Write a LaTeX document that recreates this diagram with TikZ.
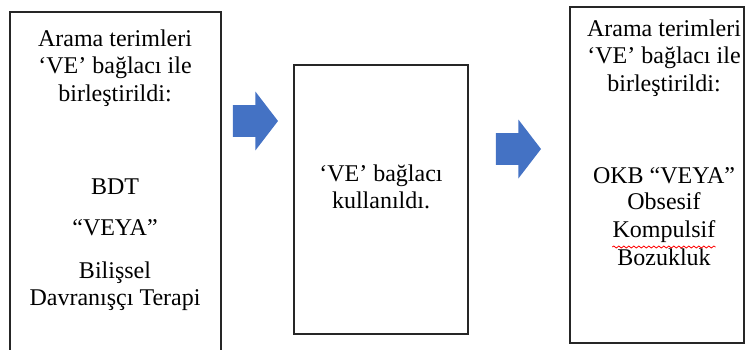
\documentclass[tikz,border=0pt]{standalone}
\usepackage{fontspec}
\newfontfamily\stagefont{Liberation Serif}
\usetikzlibrary{positioning}
\usetikzlibrary{shapes.arrows}
\usetikzlibrary{decorations.pathmorphing}
\definecolor{arrowblue}{HTML}{4472C4}
\tikzset{stagebox/.style={rectangle,draw=black!85,line width=0.6pt,fill=white,
inner sep=0pt}}
\tikzset{stagetext/.style={align=center,inner sep=0pt,
font=\stagefont\fontsize{12}{13.75}\selectfont}}
\tikzset{flowarrow/.style={single arrow,fill=arrowblue,draw=none,inner xsep=0pt,
inner ysep=7.75pt,minimum height=22.5pt,single arrow head extend=6.75pt,
single arrow tip angle=105,anchor=tip}}

\begin{document}
\begin{tikzpicture}[x=0.5pt,y=-0.5pt]
    \clip (0,0) rectangle (745,349);

    \node[stagebox,minimum width=105.5pt,minimum height=180pt] (boxSearch) at (115.5,192) {};
    \node[stagebox,minimum width=87pt,minimum height=134.5pt] (boxAnd) at (381,199.5) {};
    \node[stagebox,minimum width=87pt,minimum height=168pt] (boxOcd) at (657,175) {};

    \node[flowarrow] (arrowA) at (278.5,121) {};
    \node[flowarrow] (arrowB) at (541.5,149) {};

    \node[stagetext] (searchHead) at (115,68) {Arama terimleri\\‘VE’ bağlacı ile\\birleştirildi:};
    \node[stagetext] (searchBdt) at (115,187) {BDT};
    \node[stagetext] (searchOr) at (115,228) {“VEYA”};
    \node[stagetext] (searchCbt) at (115,286) {Bilişsel\\Davranışçı Terapi};

    \node[stagetext] (andText) at (381,187) {‘VE’ bağlacı\\kullanıldı.};

    \node[stagetext] (ocdHead) at (664,58) {Arama terimleri\\‘VE’ bağlacı ile\\birleştirildi:};
    \node[stagetext,anchor=base] (ocdOr) at (664,183) {OKB “VEYA”};
    \node[stagetext,anchor=base] (ocdObs) at (664,209) {Obsesif};
    \node[stagetext,anchor=base] (ocdComp) at (664,237) {Kompulsif};
    \node[stagetext,anchor=base] (ocdDis) at (664,265) {Bozukluk};
    \draw[red,line width=0.4pt,decorate,decoration={snake,amplitude=0.5pt,segment length=2.5pt}]
        ([yshift=-5pt]ocdComp.base west) -- ([yshift=-5pt]ocdComp.base east);

\end{tikzpicture}
\end{document}
